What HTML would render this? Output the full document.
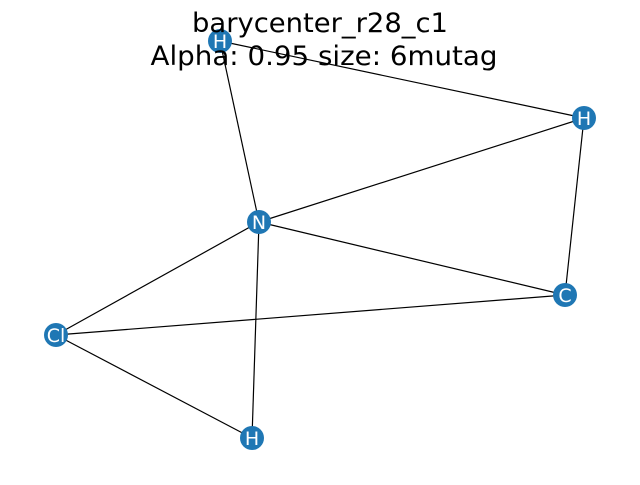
<!DOCTYPE html>
<html><head><meta charset="utf-8"><style>html,body{margin:0;padding:0;background:#fff}</style></head>
<body>
<svg width="640" height="480" viewBox="0 0 640 480" xmlns="http://www.w3.org/2000/svg">
<rect width="640" height="480" fill="#fff"/>
<g stroke="#000" stroke-width="1.2">
<line x1="220" y1="41" x2="584" y2="118"/>
<line x1="220" y1="41" x2="259" y2="222"/>
<line x1="259" y1="222" x2="584" y2="118"/>
<line x1="584" y1="118" x2="565" y2="295"/>
<line x1="259" y1="222" x2="565" y2="295"/>
<line x1="259" y1="222" x2="56" y2="335"/>
<line x1="259" y1="222" x2="252" y2="438"/>
<line x1="56" y1="335" x2="565" y2="295"/>
<line x1="56" y1="335" x2="252" y2="438"/>
</g>
<g fill="#1f77b4">
<circle cx="220" cy="41" r="12"/>
<circle cx="584" cy="118" r="12"/>
<circle cx="259" cy="222" r="12"/>
<circle cx="565" cy="295" r="12"/>
<circle cx="56" cy="335" r="12"/>
<circle cx="252" cy="438" r="12"/>
</g>
<g fill="#fff" font-family="DejaVu Sans, Liberation Sans, sans-serif" font-size="19" text-anchor="middle">
<text x="220" y="48">H</text>
<text x="584" y="125">H</text>
<text x="259" y="229">N</text>
<text x="565" y="302">C</text>
<text x="56" y="342">Cl</text>
<text x="252" y="445">H</text>
</g>
<g fill="#000" font-family="DejaVu Sans, Liberation Sans, sans-serif" font-size="27" text-anchor="middle">
<text x="320" y="32" textLength="256" lengthAdjust="spacingAndGlyphs">barycenter_r28_c1</text>
<text x="324" y="65" textLength="347" lengthAdjust="spacingAndGlyphs">Alpha: 0.95 size: 6mutag</text>
</g>
</svg>
</body></html>
